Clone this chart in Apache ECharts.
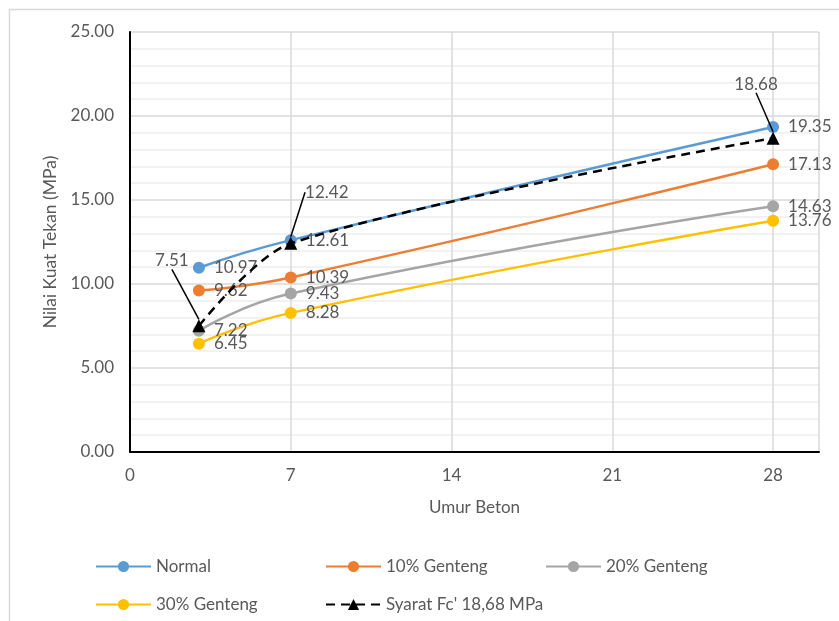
<!DOCTYPE html>
<html><head><meta charset="utf-8">
<script src="https://cdn.jsdelivr.net/npm/echarts@6/dist/echarts.min.js"></script>
<style>html,body{margin:0;padding:0;background:#fff}#c{width:839px;height:621px}</style>
</head><body><div id="c"></div>
<script>
var days = [3, 7, 28];
var normal = [10.97, 12.61, 19.35];
var genteng10 = [9.62, 10.39, 17.13];
var genteng20 = [7.22, 9.43, 14.63];
var genteng30 = [6.45, 8.28, 13.76];
var syarat = [7.51, 12.42, 18.68];
var seriesNames = ['Normal', '10% Genteng', '20% Genteng', '30% Genteng', "Syarat Fc' 18,68 MPa"];
var xTicks = [0, 7, 14, 21, 28];

var FONT = 'Lato, "Open Sans", sans-serif';
var TXT = '#595959';
var FS = 17;
function pairs(v){ return days.map(function(d,i){ return [d, v[i]]; }); }
function mk(name, vals, color){
  return {
    name: name, type: 'line', smooth: 0.5, data: pairs(vals),
    symbol: 'circle', symbolSize: 12,
    lineStyle: {color: color, width: 2.5},
    itemStyle: {color: color},
    label: {show: true, position: 'right', distance: 9, color: TXT, fontSize: FS, fontFamily: FONT,
      formatter: function(p){ return p.value[1].toFixed(2); }},
    z: 2
  };
}
var syOffsets = [[-27, -45], [36, -31], [-17, -34]];
var series = [
  mk(seriesNames[0], normal, '#5B9BD5'),
  mk(seriesNames[1], genteng10, '#ED7D31'),
  mk(seriesNames[2], genteng20, '#A5A5A5'),
  mk(seriesNames[3], genteng30, '#FFC000'),
  {
    name: seriesNames[4], type: 'line', smooth: 0.3, data: pairs(syarat),
    symbol: 'triangle', symbolSize: 13,
    lineStyle: {color: '#000', width: 2.5, type: [9, 6]},
    itemStyle: {color: '#000'},
    label: {show: true, position: 'top', distance: 5, color: TXT, fontSize: FS, fontFamily: FONT,
      formatter: function(p){ return p.value[1].toFixed(2); }},
    labelLine: {show: true, lineStyle: {color: '#000', width: 1.5}},
    labelLayout: function(p){ var o = syOffsets[p.dataIndex]; return {dx: o[0], dy: o[1]}; },
    z: 3
  }
];
var legendPos = [[90, 553], [320, 553], [540, 553], [90, 591], [320, 591]];
var legends = seriesNames.map(function(n, i){
  return {data: [n], left: legendPos[i][0], top: legendPos[i][1], itemWidth: 55, itemHeight: 14,
    textStyle: {color: TXT, fontSize: 17, fontFamily: FONT}, selectedMode: false};
});
var chart = echarts.init(document.getElementById('c'), null, {renderer: 'canvas'});
chart.setOption({
  animation: false,
  backgroundColor: '#fff',
  graphic: [{type: 'rect', shape: {x: 9.5, y: 9.5, width: 900, height: 700}, style: {fill: 'none', stroke: '#d9d9d9', lineWidth: 1.5}, silent: true}],
  grid: {left: 130, top: 32, right: 20, bottom: 169},
  legend: legends,
  xAxis: {
    type: 'value', min: 0, max: 30, interval: 7,
    name: 'Umur Beton', nameLocation: 'middle', nameGap: 47,
    nameTextStyle: {color: TXT, fontSize: 17, fontFamily: FONT},
    axisLine: {show: true, lineStyle: {color: '#000', width: 2}},
    axisTick: {show: false},
    axisLabel: {color: TXT, fontSize: FS, fontFamily: FONT, margin: 15,
      formatter: function(v){ return xTicks.indexOf(v) >= 0 ? String(v) : ''; }},
    splitLine: {show: true, lineStyle: {color: '#d9d9d9', width: 1.5}}
  },
  yAxis: {
    type: 'value', min: 0, max: 25, interval: 5,
    name: 'Nilai Kuat Tekan (MPa)', nameLocation: 'middle', nameGap: 70,
    nameTextStyle: {color: TXT, fontSize: 17.5, fontFamily: FONT},
    axisLine: {show: true, lineStyle: {color: '#000', width: 2}},
    axisTick: {show: false},
    axisLabel: {color: TXT, fontSize: FS, fontFamily: FONT, margin: 16,
      formatter: function(v){ return v.toFixed(2); }},
    splitLine: {show: true, lineStyle: {color: '#d9d9d9', width: 1.5}},
    minorTick: {show: false, splitNumber: 5},
    minorSplitLine: {show: true, lineStyle: {color: '#eeeeee', width: 1.5}}
  },
  series: series
});
</script></body></html>
